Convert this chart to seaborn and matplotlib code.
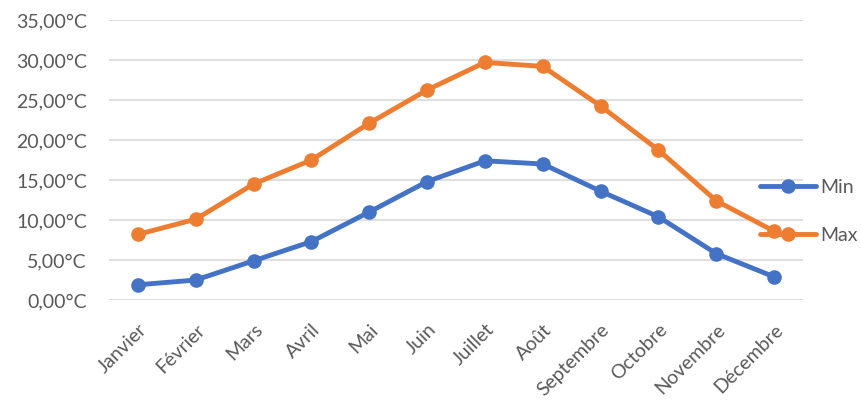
import matplotlib
matplotlib.use("Agg")
import matplotlib.pyplot as plt
from matplotlib.ticker import FuncFormatter
import seaborn as sns
import pandas as pd

mois = ["Janvier", "Février", "Mars", "Avril", "Mai", "Juin", "Juillet",
        "Août", "Septembre", "Octobre", "Novembre", "Décembre"]
temp_min = [1.9, 2.5, 4.9, 7.3, 11.0, 14.8, 17.4, 17.0, 13.6, 10.4, 5.8, 2.9]
temp_max = [8.2, 10.1, 14.5, 17.5, 22.1, 26.25, 29.7, 29.2, 24.25, 18.75, 12.4, 8.6]
series = ["Min", "Max"]
colors = ["#4472C4", "#ED7D31"]

df = pd.DataFrame({
    "mois": mois * 2,
    "pos": list(range(len(mois))) * 2,
    "temp": temp_min + temp_max,
    "serie": [series[0]] * len(mois) + [series[1]] * len(mois),
})

sns.set_theme(style="white")
plt.rcParams["font.family"] = ["Lato", "DejaVu Sans"]
text_col = "#595959"

fig = plt.figure(figsize=(8.62, 4.08), dpi=100)
ax = fig.add_axes([109 / 862, 108 / 408, 694 / 862, 280 / 408])

sns.lineplot(data=df, x="pos", y="temp", hue="serie", palette=colors,
             marker="o", markersize=10.5, markeredgewidth=0, linewidth=3.5,
             ax=ax, legend=True)

ax.set_xlim(-0.5, len(mois) - 0.5)
ax.set_ylim(0, 35)
ax.set_yticks(range(0, 36, 5))
ax.yaxis.set_major_formatter(FuncFormatter(lambda v, p: f"{v:.2f}".replace(".", ",") + "°C"))
ax.set_xticks(range(len(mois)))
ax.set_xticklabels(mois, rotation=45, ha="right", rotation_mode="anchor")
ax.grid(axis="y", color="#D9D9D9", linewidth=1.2)
ax.grid(axis="x", visible=False)
for s in ax.spines.values():
    s.set_visible(False)
ax.tick_params(axis="both", length=0, labelsize=14, colors=text_col)
ax.tick_params(axis="y", pad=16)
ax.tick_params(axis="x", pad=15)
ax.set_xlabel("")
ax.set_ylabel("")

leg = ax.legend(loc="upper left", bbox_to_anchor=(760 / 862, (408 - 179) / 408),
                bbox_transform=fig.transFigure, frameon=False, fontsize=14,
                handlelength=2.9, handletextpad=0.2, labelspacing=1.6,
                borderaxespad=0, borderpad=0)
for t in leg.get_texts():
    t.set_color(text_col)

fig.savefig("out.png", dpi=100)
